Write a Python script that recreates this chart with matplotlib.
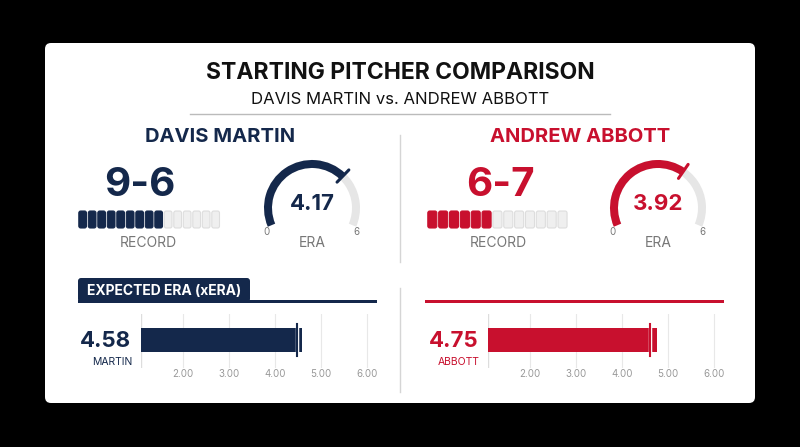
import matplotlib
matplotlib.use("Agg")
import matplotlib.pyplot as plt
from matplotlib.patches import FancyBboxPatch, Wedge, Rectangle
import numpy as np

plt.rcParams['font.family'] = ['Inter', 'DejaVu Sans']

players = ["DAVIS MARTIN", "ANDREW ABBOTT"]
short_names = ["MARTIN", "ABBOTT"]
wins = [9, 6]
losses = [6, 7]
era = [4.17, 3.92]
xera = [4.58, 4.75]
xera_marker = [4.47, 4.60]
xera_ticks = [2.0, 3.0, 4.0, 5.0, 6.0]
xera_ticklabels = ["2.00", "3.00", "4.00", "5.00", "6.00"]
era_max = 6

NAVY = "#14284B"
RED = "#C8102E"
colors = [NAVY, RED]
GRAY_EMPTY = "#E6E6E6"
GRAY_TXT = "#777777"

W, H = 800, 447
fig = plt.figure(figsize=(8, 4.47), dpi=100, facecolor="black")
ax = fig.add_axes([0, 0, 1, 1])
ax.set_xlim(0, W); ax.set_ylim(0, H); ax.axis("off")
def Y(y): return H - y

# card
ax.add_patch(FancyBboxPatch((45, Y(403)), 710, 360, boxstyle="round,pad=0,rounding_size=6",
                            fc="white", ec="none"))
ax.text(400, Y(73), "STARTING PITCHER COMPARISON", ha="center", va="center",
        fontsize=16.5, fontweight="bold", color="#111111")
ax.text(400, Y(100), f"{players[0]} vs. {players[1]}", ha="center", va="center",
        fontsize=12, color="#111111")
ax.plot([190, 610], [Y(114), Y(114)], color="#BBBBBB", lw=1)
ax.plot([400, 400], [Y(135), Y(262)], color="#D5D5D5", lw=1)
ax.plot([400, 400], [Y(288), Y(392)], color="#D5D5D5", lw=1)

for i in range(2):
    c = colors[i]
    ox = 0 if i == 0 else 350
    ax.text(220 + ox + (10 if i else 0), Y(137), players[i], ha="center", va="center",
            fontsize=14.5, fontweight="bold", color=c)
    # record
    ax.text(140 + ox + (10 if i else 0), Y(186), f"{wins[i]}-{losses[i]}", ha="center",
            va="center", fontsize=29, fontweight="bold", color=c)
    n = wins[i] + losses[i]
    x0 = 78 if i == 0 else 427
    step = 9.5 if i == 0 else 10.85
    for k in range(n):
        filled = k < wins[i]
        ax.add_patch(FancyBboxPatch((x0 + k * step + 0.8, Y(228)), step - 1.8, 17,
                     boxstyle="round,pad=0,rounding_size=2",
                     fc=c if filled else "#EFEFEF",
                     ec=c if filled else "#DDDDDD", lw=0.8))
    ax.text(148 + ox, Y(243), "RECORD", ha="center", va="center", fontsize=10, color=GRAY_TXT)
    # gauge
    cx = 312 if i == 0 else 658
    cy = Y(208)
    R = 48
    a0, a1 = 203, -23
    av = a0 - era[i] / era_max * (a0 - a1)
    ax.add_patch(Wedge((cx, cy), R, a1, a0, width=8, fc=GRAY_EMPTY, ec="none"))
    ax.add_patch(Wedge((cx, cy), R, av, a0, width=8, fc=c, ec="none"))
    t = np.radians(av)
    ax.plot([cx + (R - 12) * np.cos(t), cx + (R + 5) * np.cos(t)],
            [cy + (R - 12) * np.sin(t), cy + (R + 5) * np.sin(t)], color=c, lw=2.2,
            solid_capstyle="round")
    ax.text(cx, cy + 4, f"{era[i]:.2f}", ha="center", va="center", fontsize=16,
            fontweight="bold", color=c)
    ax.text(cx - 45, Y(232), "0", ha="center", va="center", fontsize=7, color=GRAY_TXT)
    ax.text(cx + 44, Y(232), "6", ha="center", va="center", fontsize=7, color=GRAY_TXT)
    ax.text(cx, Y(243), "ERA", ha="center", va="center", fontsize=10, color=GRAY_TXT)
    # xERA header
    lx0 = 78 if i == 0 else 425
    ax.add_patch(Rectangle((lx0, Y(302.5)), 299, 3, fc=c, ec="none"))
    if i == 0:
        ax.add_patch(FancyBboxPatch((78, Y(302)), 172, 24,
                     boxstyle="round,pad=0,rounding_size=3", fc=c, ec="none"))
        ax.text(87, Y(291), "EXPECTED ERA (xERA)", ha="left", va="center", fontsize=10,
                fontweight="bold", color="white")
    # value labels
    vx = 131 if i == 0 else 478
    ax.text(vx, Y(341), f"{xera[i]:.2f}", ha="right", va="center", fontsize=16,
            fontweight="bold", color=c)
    ax.text(vx - 19, Y(362), short_names[i], ha="center", va="center", fontsize=7.5, color=c)

    # bar chart axes
    one = 137 if i == 0 else 484
    left, right = (141, 376) if i == 0 else (488, 722)
    xmin = 1 + (left - one) / 46
    xmax = 1 + (right - one) / 46
    top, bot = 314, 368
    bax = fig.add_axes([left / W, (H - bot) / H, (right - left) / W, (bot - top) / H])
    bax.set_xlim(xmin, xmax); bax.set_ylim(0, 1)
    bax.patch.set_alpha(0)
    for s in bax.spines.values(): s.set_visible(False)
    bax.axvline(xmin, color="#DDDDDD", lw=1)
    for tk in xera_ticks:
        bax.axvline(tk, color="#E8E8E8", lw=0.8, zorder=0)
    bax.barh([0.52], [xera[i] - xmin], left=xmin, height=0.45, color=c, zorder=2)
    bax.axvline(xera_marker[i], ymin=0.22, ymax=0.82, color="white", lw=2.5, zorder=3)
    bax.axvline(xera_marker[i], ymin=0.22, ymax=0.82, color=c, lw=1.5, zorder=4)
    bax.set_xticks(xera_ticks)
    bax.set_xticklabels(xera_ticklabels)
    bax.tick_params(axis="x", length=0, labelsize=7, labelcolor="#999999", pad=1)
    bax.set_yticks([])

fig.savefig("out.png", dpi=100, facecolor="black")
